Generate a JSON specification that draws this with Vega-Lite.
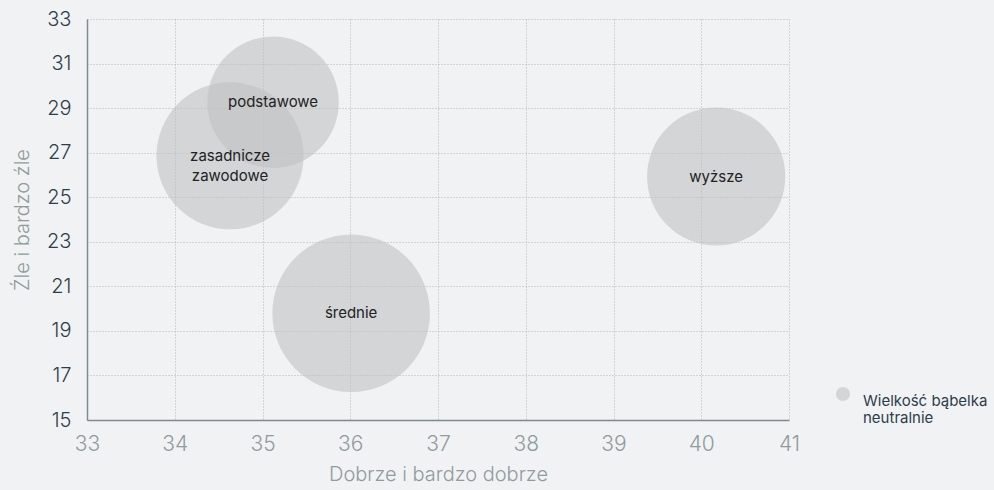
{
  "$schema": "https://vega.github.io/schema/vega-lite/v6.json",
  "width": 702,
  "height": 401,
  "autosize": {"type": "none"},
  "padding": {"left": 87, "top": 19, "right": 205, "bottom": 70},
  "background": "#f1f2f4",
  "config": {
    "view": {"stroke": null},
    "font": "Inter"
  },
  "data": {
    "values": [
      {"grupa": "podstawowe", "dobrze": 35.12, "zle": 29.26, "wielkosc": 13.6, "legenda": "Wielkość bąbelka neutralnie"},
      {"grupa": "zasadnicze\nzawodowe", "dobrze": 34.63, "zle": 26.86, "wielkosc": 17.0, "legenda": "Wielkość bąbelka neutralnie"},
      {"grupa": "średnie", "dobrze": 36.01, "zle": 19.79, "wielkosc": 19.5, "legenda": "Wielkość bąbelka neutralnie"},
      {"grupa": "wyższe", "dobrze": 40.17, "zle": 25.93, "wielkosc": 15.0, "legenda": "Wielkość bąbelka neutralnie"}
    ]
  },
  "encoding": {
    "x": {
      "field": "dobrze", "type": "quantitative",
      "scale": {"domain": [33, 41], "nice": false, "zero": false},
      "axis": {
        "title": "Dobrze i bardzo dobrze",
        "values": [33, 34, 35, 36, 37, 38, 39, 40, 41],
        "labelFlush": false,
        "titleFont": "Inter", "titleFontSize": 20, "titleFontWeight": 300, "titleColor": "#8f9c9c", "titlePadding": 10,
        "labelFont": "Inter", "labelFontSize": 21, "labelFontWeight": 300, "labelColor": "#8f9c9c", "labelPadding": 13,
        "domainColor": "#7f8c8d", "domainWidth": 1.5,
        "ticks": false,
        "grid": true, "gridColor": "#b0b5b7", "gridDash": [1, 2], "gridWidth": 1
      }
    },
    "y": {
      "field": "zle", "type": "quantitative",
      "scale": {"domain": [15, 33], "nice": false, "zero": false},
      "axis": {
        "title": "Źle i bardzo źle",
        "values": [15, 17, 19, 21, 23, 25, 27, 29, 31, 33],
        "labelFlush": false,
        "titleFont": "Inter", "titleFontSize": 20, "titleFontWeight": 300, "titleColor": "#8f9c9c", "titlePadding": 14,
        "labelFont": "Inter", "labelFontSize": 20, "labelFontWeight": 300, "labelColor": "#2c3e4a", "labelPadding": 16,
        "domainColor": "#7f8c8d", "domainWidth": 1.5,
        "ticks": false,
        "grid": true, "gridColor": "#b0b5b7", "gridDash": [1, 2], "gridWidth": 1
      }
    }
  },
  "layer": [
    {
      "mark": {"type": "circle", "opacity": 0.6},
      "encoding": {
        "size": {
          "field": "wielkosc", "type": "quantitative",
          "scale": {"type": "linear", "domain": [0, 20], "range": [0, 25465], "zero": true, "nice": false},
          "legend": null
        },
        "color": {
          "field": "legenda", "type": "nominal",
          "scale": {"range": ["#c0c1c3"]},
          "legend": {
            "title": null,
            "orient": "none",
            "legendX": 748,
            "legendY": 367,
            "symbolType": "circle",
            "symbolSize": 200,
            "symbolOpacity": 0.6,
            "labelFont": "Inter",
            "labelFontSize": 15,
            "labelColor": "#2c3e4a",
            "labelLimit": 300,
            "labelExpr": "['Wielkość bąbelka', 'neutralnie']",
            "labelBaseline": "top",
            "labelOffset": 12
          }
        }
      }
    },
    {
      "mark": {"type": "text", "font": "Inter", "fontSize": 15, "color": "#222222", "lineBreak": "\n", "baseline": "middle", "lineHeight": 20},
      "encoding": {
        "text": {"field": "grupa", "type": "nominal"}
      }
    }
  ]
}
